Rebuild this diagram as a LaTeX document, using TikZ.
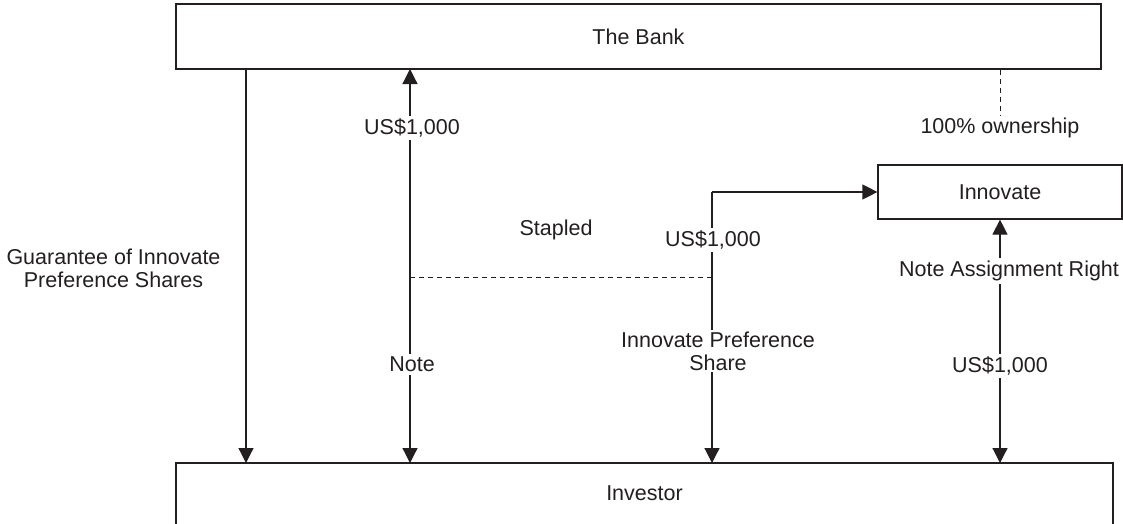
\documentclass[tikz,border=0pt]{standalone}
\usepackage{fontspec}
\setmainfont{Liberation Sans}
\usetikzlibrary{arrows.meta}
\definecolor{ink}{HTML}{231F20}
\begin{document}
\begin{tikzpicture}[x=1pt,y=-1pt,
  every node/.style={font=\fontsize{21.5}{25}\selectfont, text=ink},
  box/.style={draw=ink, line width=1.2pt, rectangle, inner sep=0pt},
  conn/.style={draw=ink, line width=1.2pt},
  arr/.style={-{Triangle[length=15pt,width=15pt]}},
  darr/.style={{Triangle[length=15pt,width=15pt]}-{Triangle[length=15pt,width=15pt]}},
  dashline/.style={draw=ink, line width=1pt, dash pattern=on 5pt off 4pt},
  lbl/.style={fill=white, inner sep=3pt},
  txt/.style={align=center, inner sep=0pt}]
\useasboundingbox (0,0) rectangle (1123,523);
\clip (0,0) rectangle (1123,523);

\node[box, minimum width=925pt, minimum height=65pt] (bank) at (638.5,36.5) {The Bank};
\node[box, minimum width=937pt, minimum height=62pt] (investor) at (644.5,494) {};
\node[txt] (investorlbl) at (644.5,493) {Investor};
\node[box, minimum width=244pt, minimum height=54pt] (innovate) at (1000,192) {Innovate};

% Guarantee line
\coordinate (gA) at (246,69);
\coordinate (gB) at (246,463);
\draw[conn, arr] (gA) -- (gB);
\node[txt] (guar) at (113.5,268) {Guarantee of Innovate\\[-2pt]Preference Shares};

% Note line
\coordinate (nA) at (410,69);
\coordinate (nB) at (410,463);
\draw[conn, darr] (nA) -- (nB);
\node[lbl] (usd1) at (412,128) {US\$1,000};
\node[lbl] (note) at (412,364) {Note};

% Preference share line
\coordinate (pC) at (712,192);
\coordinate (pB) at (712,463);
\draw[conn, arr] (pC) -- (pB);
\draw[conn, arr] (pC) -- (innovate.west);
\node[lbl] (usd2) at (713,240) {US\$1,000};
\node[lbl, align=center, inner sep=2pt] (pref) at (718,351) {Innovate Preference\\[-2pt]Share};

% Stapled
\coordinate (sA) at (410,277);
\coordinate (sB) at (712,277);
\draw[dashline] (sA) -- (sB);
\node[txt] (stapled) at (556,230) {Stapled};

% Right line
\coordinate (rB) at (1000,463);
\draw[conn, darr] (innovate.south) -- (rB);
\node[lbl] (nar) at (1009,271) {Note Assignment Right};
\node[lbl] (usd3) at (1000,366) {US\$1,000};

% Ownership
\coordinate (oB) at (1000,115);
\draw[dashline] (bank.south -| innovate.north) -- (oB);
\node[txt] (own) at (1000,128) {100\% ownership};
\end{tikzpicture}
\end{document}
